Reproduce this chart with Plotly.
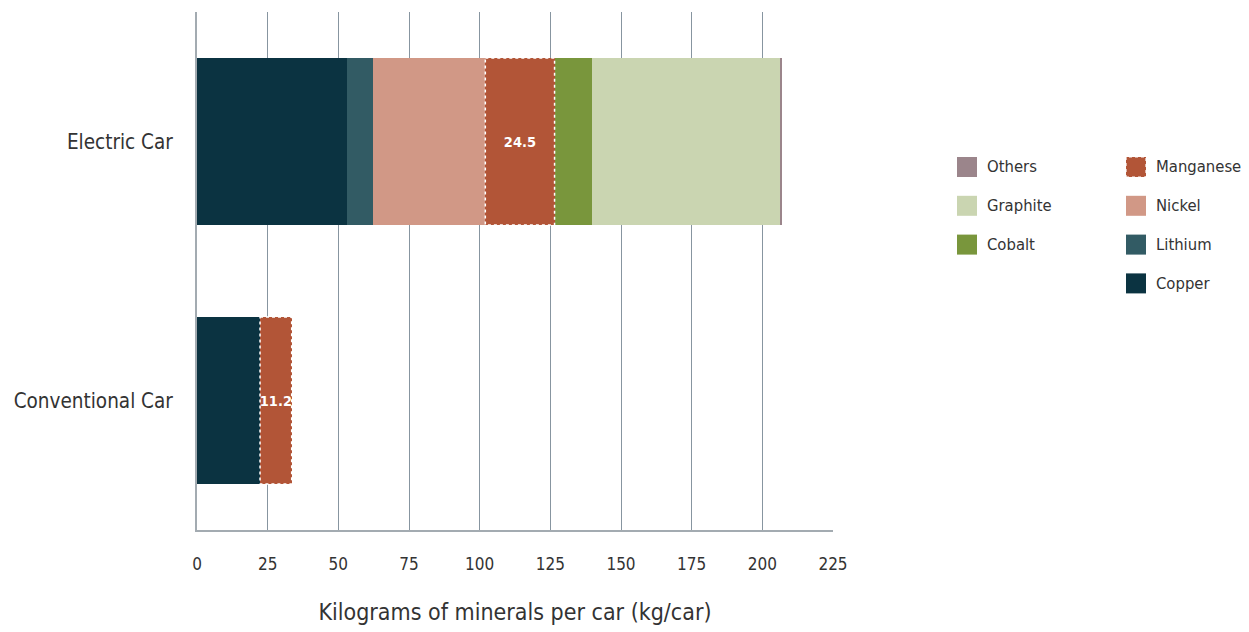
import plotly.graph_objects as go

# Mineral content per car, kg/car
cars = ["Electric Car", "Conventional Car"]
minerals = ["Copper", "Lithium", "Nickel", "Manganese", "Cobalt", "Graphite", "Others"]
copper = [53.2, 22.3]
lithium = [8.9, 0.0]
nickel = [39.9, 0.0]
manganese = [24.5, 11.2]
cobalt = [13.3, 0.0]
graphite = [66.3, 0.0]
others = [0.9, 0.0]
x_ticks = [0, 25, 50, 75, 100, 125, 150, 175, 200, 225]

series = [copper, lithium, nickel, manganese, cobalt, graphite, others]
colors = {
    "Copper": "#0b3341",
    "Lithium": "#325b64",
    "Nickel": "#d19886",
    "Manganese": "#b25537",
    "Cobalt": "#79963c",
    "Graphite": "#cad5b1",
    "Others": "#9b858b",
}

FONT = "DejaVu Sans Condensed, Liberation Sans Narrow, sans-serif"
TEXT = "#333333"
BAR_WIDTH = 0.645

fig = go.Figure()
for name, vals in zip(minerals, series):
    is_mn = name == "Manganese"
    fig.add_trace(go.Bar(
        y=cars, x=vals, name=name, orientation="h",
        marker=dict(color=colors[name], line=dict(width=0)),
        width=BAR_WIDTH,
        text=[f"{v:g}" for v in vals] if is_mn else None,
        textposition="inside" if is_mn else "none",
        insidetextanchor="middle",
        textangle=0,
        constraintext="none",
        textfont=dict(family=FONT, size=14.5, color="white", weight="bold"),
        showlegend=False,
        hoverinfo="x+name",
    ))

# Dashed white outline around the manganese segments
mn_idx = minerals.index("Manganese")
for i, car in enumerate(cars):
    start = sum(series[k][i] for k in range(mn_idx))
    end = start + manganese[i]
    fig.add_shape(type="rect", xref="x", yref="y",
                  x0=start, x1=end,
                  y0=i - BAR_WIDTH / 2, y1=i + BAR_WIDTH / 2,
                  line=dict(color="white", width=1.5, dash="dot"),
                  fillcolor="rgba(0,0,0,0)", layer="above")

# Two-column legend drawn in pixel-based paper coordinates
W, H = 1249, 632
ml, mr, mt, mb = 197, 416, 12, 102
pw, ph = W - ml - mr, H - mt - mb

def px_x(p):
    return (p - ml) / pw

def px_y(p):
    return (H - mb - p) / ph

legend_cols = [
    (957, ["Others", "Graphite", "Cobalt"]),
    (1126, ["Manganese", "Nickel", "Lithium", "Copper"]),
]
for x0, names in legend_cols:
    for j, name in enumerate(names):
        cy = 167 + j * 38.8
        fig.add_shape(type="rect", xref="paper", yref="paper",
                      x0=px_x(x0), x1=px_x(x0 + 20),
                      y0=px_y(cy + 10), y1=px_y(cy - 10),
                      fillcolor=colors[name],
                      line=dict(color="white" if name == "Manganese" else colors[name],
                                width=1.2 if name == "Manganese" else 0,
                                dash="dot"))
        fig.add_annotation(xref="paper", yref="paper",
                           x=px_x(x0 + 28), y=px_y(cy),
                           text=name, showarrow=False,
                           xanchor="left", yanchor="middle",
                           font=dict(family=FONT, size=16.5, color=TEXT))

fig.update_layout(
    width=W, height=H,
    barmode="stack",
    paper_bgcolor="white", plot_bgcolor="white",
    margin=dict(l=ml, r=mr, t=mt, b=mb, autoexpand=False),
    font=dict(family=FONT, color=TEXT),
    showlegend=False,
    xaxis=dict(
        range=[0, 225], tickvals=x_ticks,
        showgrid=True, gridcolor="#8795a0", gridwidth=1,
        zeroline=False, automargin=False,
        showline=True, linecolor="#a3abb1", linewidth=2,
        ticks="", ticklabelstandoff=18,
        tickfont=dict(family=FONT, size=17, color=TEXT),
        title=dict(text="Kilograms of minerals per car (kg/car)",
                   font=dict(family=FONT, size=23, color=TEXT), standoff=30),
    ),
    yaxis=dict(
        range=[1.5, -0.5], autorange=False,
        showgrid=False, zeroline=False, automargin=False,
        showline=True, linecolor="#a3abb1", linewidth=2,
        ticks="", ticklabelstandoff=18,
        tickfont=dict(family=FONT, size=20.5, color=TEXT),
    ),
)

fig.write_html("out.html")
